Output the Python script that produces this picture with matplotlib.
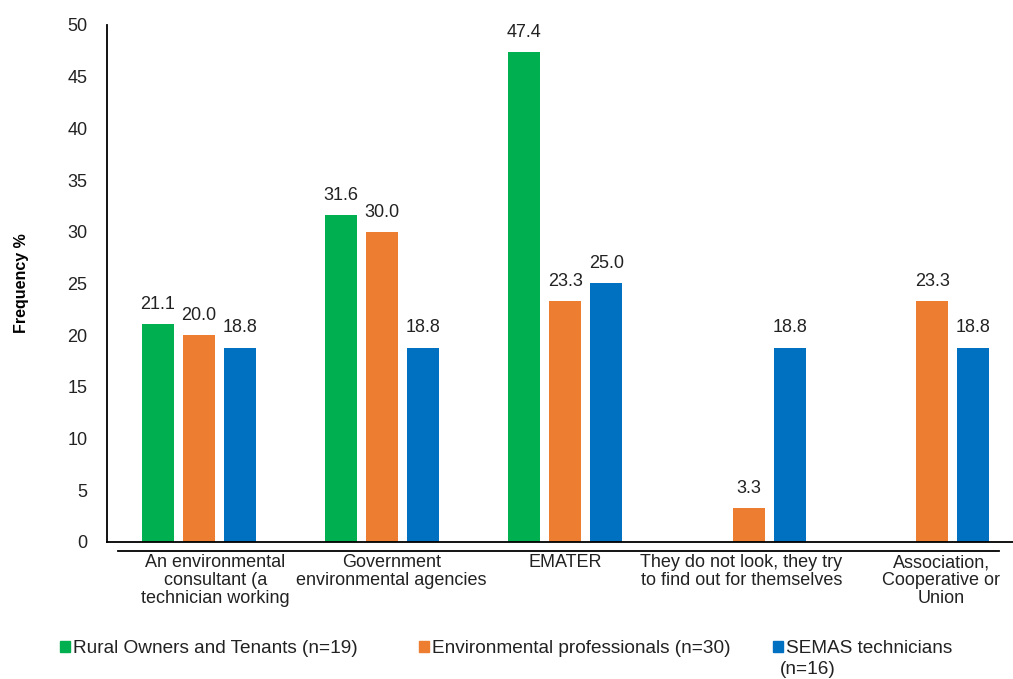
import numpy as np
import matplotlib
matplotlib.use("Agg")
import matplotlib.pyplot as plt
from matplotlib.patches import Patch
from matplotlib.lines import Line2D

plt.rcParams['font.family'] = ['Liberation Sans', 'DejaVu Sans']

categories = [
    "An environmental\nconsultant (a\ntechnician working",
    "Government\nenvironmental agencies",
    "EMATER",
    "They do not look, they try\nto find out for themselves",
    "Association,\nCooperative or\nUnion",
]
series_names = [
    "Rural Owners and Tenants (n=19)",
    "Environmental professionals (n=30)",
    "SEMAS technicians",
]
owners = [21.1, 31.6, 47.4, np.nan, np.nan]
professionals = [20.0, 30.0, 23.3, 3.3, 23.3]
semas = [18.8, 18.8, 25.0, 18.8, 18.8]
yticks = [0, 5, 10, 15, 20, 25, 30, 35, 40, 45, 50]

colors = ["#00B050", "#ED7D31", "#0070C0"]

fig = plt.figure(figsize=(10.13, 6.79), dpi=100)
ax = fig.add_axes([0.1056, 0.2018, 0.8944, 0.7614])

x = np.arange(len(categories))
width = 0.174
step = 0.2234
for k, (vals, col) in enumerate(zip([owners, professionals, semas], colors)):
    vals = np.array(vals, dtype=float)
    xs = x + (k - 1) * step
    ax.bar(xs, np.nan_to_num(vals), width=width, color=col)
    for xi, v in zip(xs, vals):
        if np.isnan(v):
            continue
        ax.annotate(f"{v:.1f}", (xi, v), xytext=(0, 8), textcoords="offset points",
                    ha="center", va="bottom", fontsize=13, color="#222222")

ax.set_xlim(-0.5, 4.441)
ax.set_ylim(0, 50)
ax.set_yticks(yticks)
ax.tick_params(axis="y", length=0, pad=14, labelsize=13, labelcolor="#222222")
ax.set_xticks([])
for s in ["top", "right"]:
    ax.spines[s].set_visible(False)
ax.spines["left"].set_linewidth(1.3)
ax.spines["bottom"].set_linewidth(1.3)

ax.set_ylabel("Frequency %", fontsize=11.5, fontweight="bold", labelpad=28)

# category labels, sitting under a second rule below the plot
fig.add_artist(Line2D([118 / 1013, 999 / 1013], [1 - 551 / 679] * 2,
                      color="black", lw=1.3))
shift = [0.09, 0.05, 0.0, -0.04, 0.05]
for i, lab in enumerate(categories):
    ax.text(x[i] + shift[i], -0.024, lab, transform=ax.get_xaxis_transform(),
            ha="center", va="top", fontsize=13, linespacing=1.08, color="#222222")

# legend entries laid out along the bottom
leg_x = [60 / 1013, 419 / 1013, 773 / 1013]
for name, col, lx in zip(series_names, colors, leg_x):
    fig.legend(handles=[Patch(color=col, label=name)], loc="upper left",
               bbox_to_anchor=(lx, 1 - 640 / 679), frameon=False, fontsize=13.7,
               handlelength=0.55, handleheight=0.55, handletextpad=0.15,
               borderpad=0, borderaxespad=0, labelcolor="#222222")
fig.text(780 / 1013, 1 - 669 / 679, "(n=16)", fontsize=13.7, va="center", color="#222222")

fig.savefig("out.png", dpi=100)
